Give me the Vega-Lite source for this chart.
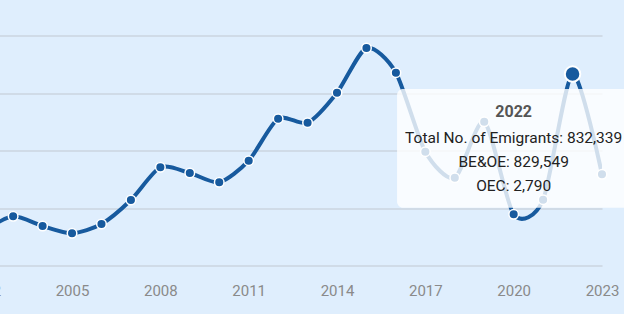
{
  "$schema": "https://vega.github.io/schema/vega-lite/v6.json",
  "width": 618.3,
  "height": 230,
  "autosize": {"type": "none"},
  "padding": {"left": -16.3, "top": 35.5, "right": 22, "bottom": 48.5},
  "background": "#dfeefd",
  "config": {"view": {"stroke": null}, "font": "Roboto"},
  "datasets": {
    "emigrants": [
      {"year": 2002, "value": 150000},
      {"year": 2003, "value": 213900},
      {"year": 2004, "value": 171700},
      {"year": 2005, "value": 140000},
      {"year": 2006, "value": 180400},
      {"year": 2007, "value": 284800},
      {"year": 2008, "value": 427000},
      {"year": 2009, "value": 402200},
      {"year": 2010, "value": 361700},
      {"year": 2011, "value": 455700},
      {"year": 2012, "value": 638300},
      {"year": 2013, "value": 620900},
      {"year": 2014, "value": 751300},
      {"year": 2015, "value": 945700},
      {"year": 2016, "value": 838300},
      {"year": 2017, "value": 494800},
      {"year": 2018, "value": 381700},
      {"year": 2019, "value": 625200},
      {"year": 2020, "value": 222600},
      {"year": 2021, "value": 286100},
      {"year": 2022, "value": 832339},
      {"year": 2023, "value": 396500}
    ],
    "tipbox": [{"x0": 2016.04, "x1": 2024.5, "y0": 251300, "y1": 767000}],
    "tiptitle": [{"year": 2020, "value": 666100, "text": "2022"}],
    "tiplines": [
      {"year": 2020, "value": 553000, "text": "Total No. of Emigrants: 832,339"},
      {"year": 2020, "value": 451300, "text": "BE&OE: 829,549"},
      {"year": 2020, "value": 345700, "text": "OEC: 2,790"}
    ]
  },
  "encoding": {
    "x": {
      "field": "year",
      "type": "quantitative",
      "scale": {"domain": [2002, 2023], "nice": false, "zero": false},
      "axis": {
        "values": [2002, 2005, 2008, 2011, 2014, 2017, 2020, 2023],
        "format": "d",
        "labelFlush": false,
        "labelOverlap": false,
        "labelColor": "#8a8a8a",
        "labelFontSize": 15,
        "labelFont": "Roboto",
        "labelPadding": 18,
        "ticks": false,
        "domain": false,
        "grid": false,
        "title": null
      }
    },
    "y": {
      "field": "value",
      "type": "quantitative",
      "scale": {"domain": [0, 1000000], "nice": false},
      "axis": {
        "values": [0, 250000, 500000, 750000, 1000000],
        "labels": false,
        "ticks": false,
        "domain": false,
        "grid": true,
        "gridColor": "#cbd5df",
        "gridWidth": 1.5,
        "title": null
      }
    }
  },
  "layer": [
    {
      "data": {"name": "emigrants"},
      "mark": {"type": "line", "interpolate": "cardinal", "tension": 0.25, "color": "#175a9e", "strokeWidth": 4, "clip": true}
    },
    {
      "data": {"name": "emigrants"},
      "transform": [{"filter": "datum.year != 2022"}],
      "mark": {"type": "point", "filled": true, "size": 92, "color": "#175a9e", "stroke": "#ffffff", "strokeWidth": 1.5, "opacity": 1}
    },
    {
      "data": {"name": "tipbox"},
      "mark": {"type": "rect", "color": "#ffffff", "opacity": 0.8, "cornerRadius": 6, "clip": false},
      "encoding": {
        "x": {"field": "x0", "type": "quantitative"},
        "x2": {"field": "x1"},
        "y": {"field": "y1", "type": "quantitative"},
        "y2": {"field": "y0"}
      }
    },
    {
      "data": {"name": "tiptitle"},
      "mark": {"type": "text", "font": "Roboto", "fontWeight": "bold", "fontSize": 16, "color": "#555555", "align": "center", "baseline": "middle", "clip": false},
      "encoding": {"text": {"field": "text"}}
    },
    {
      "data": {"name": "tiplines"},
      "mark": {"type": "text", "font": "Roboto", "fontSize": 15.5, "color": "#222222", "align": "center", "baseline": "middle", "clip": false},
      "encoding": {"text": {"field": "text"}}
    },
    {
      "data": {"name": "emigrants"},
      "transform": [{"filter": "datum.year == 2022"}],
      "mark": {"type": "point", "filled": true, "size": 240, "color": "#175a9e", "stroke": "#ffffff", "strokeWidth": 2, "opacity": 1}
    }
  ]
}
